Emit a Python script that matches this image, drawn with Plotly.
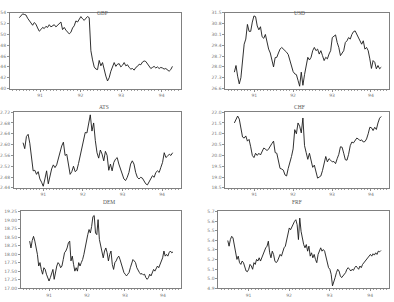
import pandas as pd
import plotly.graph_objects as go

START = "1990-06-28"
END = "1994-04-08"

gbp = [53.1, 53.4, 53.8, 53.7, 53.6, 53.0, 52.6, 52.1, 51.7, 52.2, 51.9, 51.2, 50.6, 50.9,
       51.3, 51.1, 51.5, 51.3, 51.8, 51.4, 51.6, 51.8, 51.4, 51.7, 51.9, 52.3, 50.9, 51.3,
       50.8, 50.4, 50.1, 50.4, 51.2, 51.6, 52.5, 52.3, 52.8, 53.3, 52.9, 52.6, 53.0, 53.3,
       53.1, 47.0, 45.3, 44.0, 43.6, 43.5, 45.2, 44.2, 44.8, 43.2, 42.3, 41.4, 42.0, 43.2,
       43.9, 44.8, 44.1, 44.5, 44.6, 44.0, 44.3, 44.8, 44.2, 44.4, 43.9, 43.6, 43.7, 43.4,
       43.9, 44.1, 44.5, 44.4, 44.9, 45.1, 45.0, 44.5, 44.0, 43.7, 43.9, 44.1, 43.8, 44.0,
       43.7, 43.9, 43.8, 43.6, 43.7, 43.4, 43.2, 43.5, 44.1]

usd = [27.66, 28.09, 27.4, 26.9, 27.3, 28.2, 29.47, 29.8, 30.75, 30.3, 30.3, 30.9, 31.3,
       31.25, 30.65, 30.4, 30.6, 29.95, 29.85, 30.1, 29.6, 29.15, 28.9, 28.5, 28.0, 28.6,
       28.62, 28.9, 29.15, 29.26, 29.15, 29.1, 28.95, 28.8, 28.41, 28.1, 27.7, 27.55, 27.5,
       27.13, 26.75, 27.66, 26.81, 27.5, 28.09, 28.62, 28.45, 28.62, 29.05, 29.26, 29.05,
       29.15, 28.83, 29.05, 28.73, 28.41, 28.62, 28.52, 28.83, 29.05, 29.9, 30.01, 30.07,
       29.58, 29.26, 28.73, 28.94, 29.05, 29.58, 29.69, 29.9, 29.8, 30.1, 30.28, 30.33,
       30.1, 29.9, 29.69, 29.47, 29.69, 29.15, 29.26, 29.05, 28.52, 27.9, 28.41, 28.3,
       27.88, 28.09, 27.88, 27.98]

ats = [2.607, 2.585, 2.630, 2.638, 2.605, 2.555, 2.503, 2.505, 2.490, 2.500, 2.473, 2.461,
       2.446, 2.473, 2.503, 2.455, 2.490, 2.510, 2.525, 2.515, 2.525, 2.550, 2.565, 2.595,
       2.609, 2.560, 2.564, 2.520, 2.490, 2.500, 2.520, 2.500, 2.505, 2.530, 2.560, 2.590,
       2.625, 2.645, 2.643, 2.680, 2.710, 2.650, 2.680, 2.615, 2.570, 2.550, 2.580, 2.565,
       2.540, 2.575, 2.560, 2.505, 2.528, 2.503, 2.534, 2.546, 2.552, 2.528, 2.509, 2.491,
       2.473, 2.467, 2.479, 2.497, 2.528, 2.540, 2.528, 2.497, 2.479, 2.473, 2.479, 2.476,
       2.467, 2.455, 2.451, 2.461, 2.473, 2.485, 2.479, 2.497, 2.503, 2.497, 2.516, 2.534,
       2.570, 2.552, 2.558, 2.564, 2.560, 2.570]

chf = [21.50, 21.70, 21.82, 21.68, 21.27, 20.85, 20.80, 20.90, 20.66, 20.74, 20.40, 20.00,
       19.90, 20.10, 20.00, 20.10, 20.02, 20.20, 20.34, 20.30, 20.22, 20.30, 20.40, 20.55,
       20.66, 20.13, 20.10, 19.70, 19.40, 19.37, 19.32, 19.10, 19.05, 19.40, 19.65, 19.95,
       20.30, 21.19, 21.00, 21.50, 21.35, 21.04, 21.73, 20.45, 20.13, 19.82, 20.10, 19.75,
       19.45, 19.55, 19.25, 18.95, 19.00, 19.05, 19.30, 19.60, 19.95, 19.70, 19.85, 19.78,
       19.70, 19.72, 19.62, 19.85, 20.05, 20.40, 20.38, 20.10, 19.80, 19.78, 20.05, 20.45,
       20.62, 20.58, 20.70, 20.80, 20.76, 20.68, 20.72, 20.62, 20.64, 20.76, 21.00, 21.30,
       21.28, 21.15, 21.30, 21.20, 21.50, 21.72, 21.80]

dem = [18.38, 18.18, 18.40, 18.52, 18.38, 18.18, 17.99, 17.65, 17.75, 17.55, 17.41, 17.60,
       17.55, 17.41, 17.31, 17.21, 17.31, 17.46, 17.55, 17.26, 17.50, 17.65, 17.75, 17.70,
       17.60, 17.65, 17.84, 18.04, 18.09, 18.18, 18.33, 18.38, 17.80, 17.94, 17.70, 17.50,
       17.60, 17.50, 17.75, 17.65, 17.75, 17.84, 17.99, 18.18, 18.47, 18.57, 18.72, 18.62,
       18.81, 19.10, 19.13, 18.62, 18.57, 19.01, 18.43, 18.23, 17.99, 17.89, 18.09, 18.18,
       18.04, 17.80, 17.99, 18.09, 17.70, 17.55, 17.75, 17.80, 17.89, 17.94, 17.84, 17.70,
       17.60, 17.46, 17.41, 17.36, 17.41, 17.46, 17.60, 17.70, 17.84, 17.80, 17.75, 17.60,
       17.50, 17.46, 17.41, 17.43, 17.39, 17.41, 17.31, 17.26, 17.31, 17.41, 17.36, 17.46,
       17.55, 17.50, 17.60, 17.65, 17.60, 17.70, 17.75, 17.89, 18.09, 17.94, 17.99, 17.94,
       18.04, 18.09, 18.04, 18.06]

frf = [5.397, 5.338, 5.407, 5.441, 5.424, 5.355, 5.286, 5.200, 5.234, 5.166, 5.148, 5.183,
       5.166, 5.114, 5.079, 5.072, 5.097, 5.148, 5.131, 5.097, 5.166, 5.148, 5.200, 5.183,
       5.217, 5.183, 5.217, 5.269, 5.286, 5.321, 5.338, 5.390, 5.269, 5.217, 5.286, 5.252,
       5.183, 5.166, 5.183, 5.217, 5.252, 5.234, 5.286, 5.321, 5.338, 5.407, 5.476, 5.528,
       5.510, 5.545, 5.562, 5.597, 5.614, 5.562, 5.407, 5.631, 5.493, 5.407, 5.355, 5.321,
       5.355, 5.286, 5.338, 5.234, 5.269, 5.217, 5.252, 5.200, 5.166, 5.252, 5.286, 5.321,
       5.286, 5.303, 5.286, 5.234, 5.183, 5.114, 5.097, 5.045, 4.924, 4.959, 5.010, 5.062,
       5.097, 5.079, 5.028, 5.010, 5.028, 5.045, 5.062, 5.097, 5.114, 5.097, 5.079, 5.097,
       5.086, 5.114, 5.131, 5.114, 5.097, 5.131, 5.114, 5.148, 5.166, 5.183, 5.200, 5.217,
       5.234, 5.252, 5.234, 5.259, 5.245, 5.269, 5.252, 5.286, 5.279, 5.293]

names = ["GBP", "USD", "ATS", "CHF", "DEM", "FRF"]
series = [gbp, usd, ats, chf, dem, frf]
y_ranges = [[40, 54], [26.6, 31.5], [2.44, 2.72], [18.5, 22.0], [17.0, 19.25], [4.9, 5.7]]
y_dticks = [2, 0.7, 0.04, 0.5, 0.25, 0.1]
y_formats = [".0f", ".1f", ".2f", ".1f", ".2f", ".1f"]
x_ticks = ["1991-01-01", "1992-01-01", "1993-01-01", "1994-01-01"]
x_ticklabels = ["91", "92", "93", "94"]

W, H = 394, 302
# panel pixel boxes: left, right, top, bottom
boxes = [(9, 180, 11, 88), (225, 389, 11, 88),
         (13, 180, 112, 189), (225, 389, 112, 189),
         (20, 180, 213, 291), (218, 389, 213, 291)]

fig = go.Figure()
annotations = []
for i, (nm, vals) in enumerate(zip(names, series)):
    k = i + 1
    dates = pd.date_range(START, END, periods=len(vals))
    xa = "x" if k == 1 else f"x{k}"
    ya = "y" if k == 1 else f"y{k}"
    fig.add_trace(go.Scatter(x=dates, y=vals, mode="lines", xaxis=xa, yaxis=ya,
                             line=dict(color="#1a1a1a", width=0.9), showlegend=False,
                             hoverinfo="skip"))
    l, r, t, b = boxes[i]
    axis_common = dict(showline=True, mirror=True, linecolor="#808080", linewidth=1,
                       showgrid=False, zeroline=False, ticks="outside", ticklen=2,
                       tickcolor="#909090", tickfont=dict(size=4.5, color="#777777",
                                                           family="DejaVu Sans"))
    fig.layout[f"xaxis{'' if k == 1 else k}"] = dict(
        domain=[l / W, r / W], anchor=ya, type="date",
        range=["1990-04-05", "1994-06-20"], tickmode="array",
        tickvals=x_ticks, ticktext=x_ticklabels,
        minor=dict(ticks="outside", ticklen=1, dtick="M1", tickcolor="#a0a0a0"),
        **axis_common)
    fig.layout[f"yaxis{'' if k == 1 else k}"] = dict(
        domain=[1 - b / H, 1 - t / H], anchor=xa, range=y_ranges[i],
        dtick=y_dticks[i], tick0=y_ranges[i][0], tickformat=y_formats[i],
        **axis_common)
    annotations.append(dict(text=nm, x=(l + r) / 2 / W, y=1 - (t - 5) / H,
                            xref="paper", yref="paper", showarrow=False,
                            font=dict(size=5.5, color="#555555", family="Liberation Serif")))

fig.update_layout(width=W, height=H, margin=dict(l=0, r=0, t=0, b=0),
                  paper_bgcolor="white", plot_bgcolor="white",
                  annotations=annotations)
fig.write_html("out.html")
